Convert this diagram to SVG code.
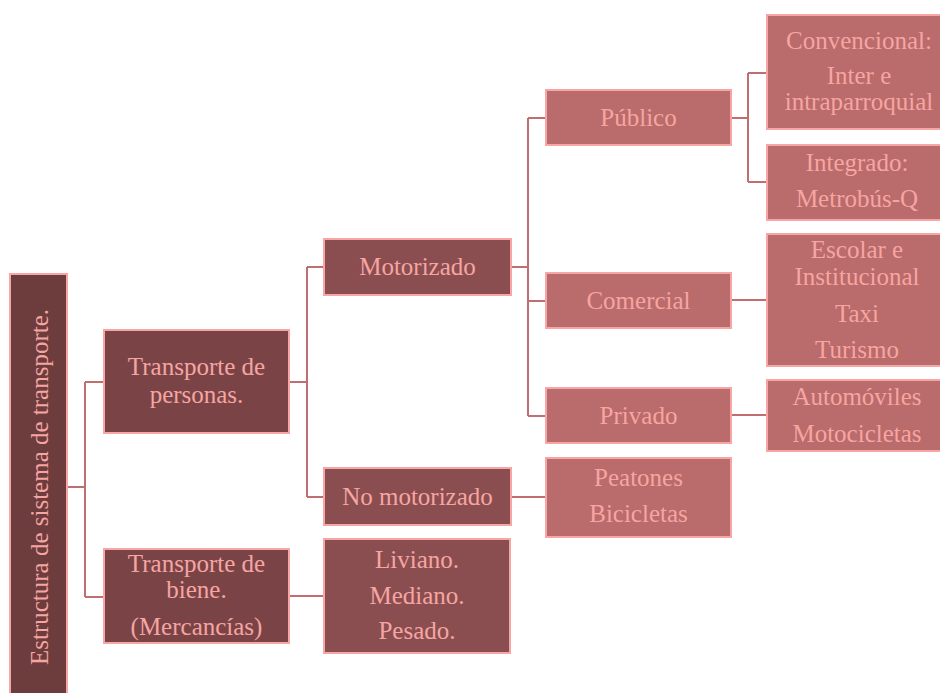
<svg xmlns="http://www.w3.org/2000/svg" width="940" height="693" viewBox="0 0 940 693">
<style>
.t{font-family:"Liberation Serif","Tinos","DejaVu Serif",serif;font-size:25px;fill:#f6a5a2;text-anchor:middle}
.b{stroke:#f7a5a5;stroke-width:2}
.c{fill:none;stroke:#c06f70;stroke-width:2}
.l0{fill:#6d3c3d}.l1{fill:#7a4447}.l2{fill:#8a4e50}.l3{fill:#ba6b6b}
</style>
<rect width="940" height="693" fill="#ffffff"/>
<g id="connectors">
<path class="c" d="M67 487H85M85 382V597M85 382H104M85 597H104"/>
<path class="c" d="M289 382H307M307 267V497M307 267H324M307 497H324"/>
<path class="c" d="M289 596H324"/>
<path class="c" d="M511 267H528M528 118V416M528 118H546M528 301H546M528 416H546"/>
<path class="c" d="M511 497H546"/>
<path class="c" d="M731 118H748M748 73V182M748 73H767M748 182H767"/>
<path class="c" d="M731 300H767"/>
<path class="c" d="M731 415H767"/>
</g>
<g id="root">
<rect class="b l0" x="10" y="274" width="57" height="430"/>
<text class="t" font-size="26" transform="translate(48,487) rotate(-90)">Estructura de sistema de transporte.</text>
</g>
<g id="personas">
<rect class="b l1" x="104" y="330" width="185" height="103"/>
<text class="t" x="196.5" y="375">Transporte de</text>
<text class="t" x="196.5" y="403">personas.</text>
</g>
<g id="bienes">
<rect class="b l1" x="104" y="549" width="185" height="94"/>
<text class="t" x="196.5" y="572">Transporte de</text>
<text class="t" x="196.5" y="598">biene.</text>
<text class="t" x="196.5" y="635">(Mercancías)</text>
</g>
<g id="motorizado">
<rect class="b l2" x="324" y="239" width="187" height="56"/>
<text class="t" x="417.5" y="275">Motorizado</text>
</g>
<g id="nomotorizado">
<rect class="b l2" x="324" y="468" width="187" height="57"/>
<text class="t" x="417.5" y="505">No motorizado</text>
</g>
<g id="liviano">
<rect class="b l2" x="324" y="539" width="186" height="114"/>
<text class="t" x="417" y="568">Liviano.</text>
<text class="t" x="417" y="604">Mediano.</text>
<text class="t" x="417" y="639">Pesado.</text>
</g>
<g id="publico">
<rect class="b l3" x="546" y="90" width="185" height="55"/>
<text class="t" x="638.5" y="126">Público</text>
</g>
<g id="comercial">
<rect class="b l3" x="546" y="273" width="185" height="55"/>
<text class="t" x="638.5" y="309">Comercial</text>
</g>
<g id="privado">
<rect class="b l3" x="546" y="388" width="185" height="55"/>
<text class="t" x="638.5" y="424">Privado</text>
</g>
<g id="peatones">
<rect class="b l3" x="546" y="458" width="185" height="79"/>
<text class="t" x="638.5" y="486">Peatones</text>
<text class="t" x="638.5" y="522">Bicicletas</text>
</g>
<g id="convencional">
<rect class="b l3" x="767" y="15" width="185" height="114"/>
<text class="t" x="859" y="49">Convencional:</text>
<text class="t" x="859" y="84">Inter e</text>
<text class="t" x="859" y="110">intraparroquial</text>
</g>
<g id="integrado">
<rect class="b l3" x="767" y="145" width="185" height="75"/>
<text class="t" x="857" y="171">Integrado:</text>
<text class="t" x="857" y="207">Metrobús-Q</text>
</g>
<g id="escolar">
<rect class="b l3" x="767" y="234" width="185" height="132"/>
<text class="t" x="857" y="258">Escolar e</text>
<text class="t" x="857" y="285">Institucional</text>
<text class="t" x="857" y="322">Taxi</text>
<text class="t" x="857" y="358">Turismo</text>
</g>
<g id="automoviles">
<rect class="b l3" x="767" y="380" width="185" height="71"/>
<text class="t" x="857" y="405">Automóviles</text>
<text class="t" x="857" y="442">Motocicletas</text>
</g>
</svg>
